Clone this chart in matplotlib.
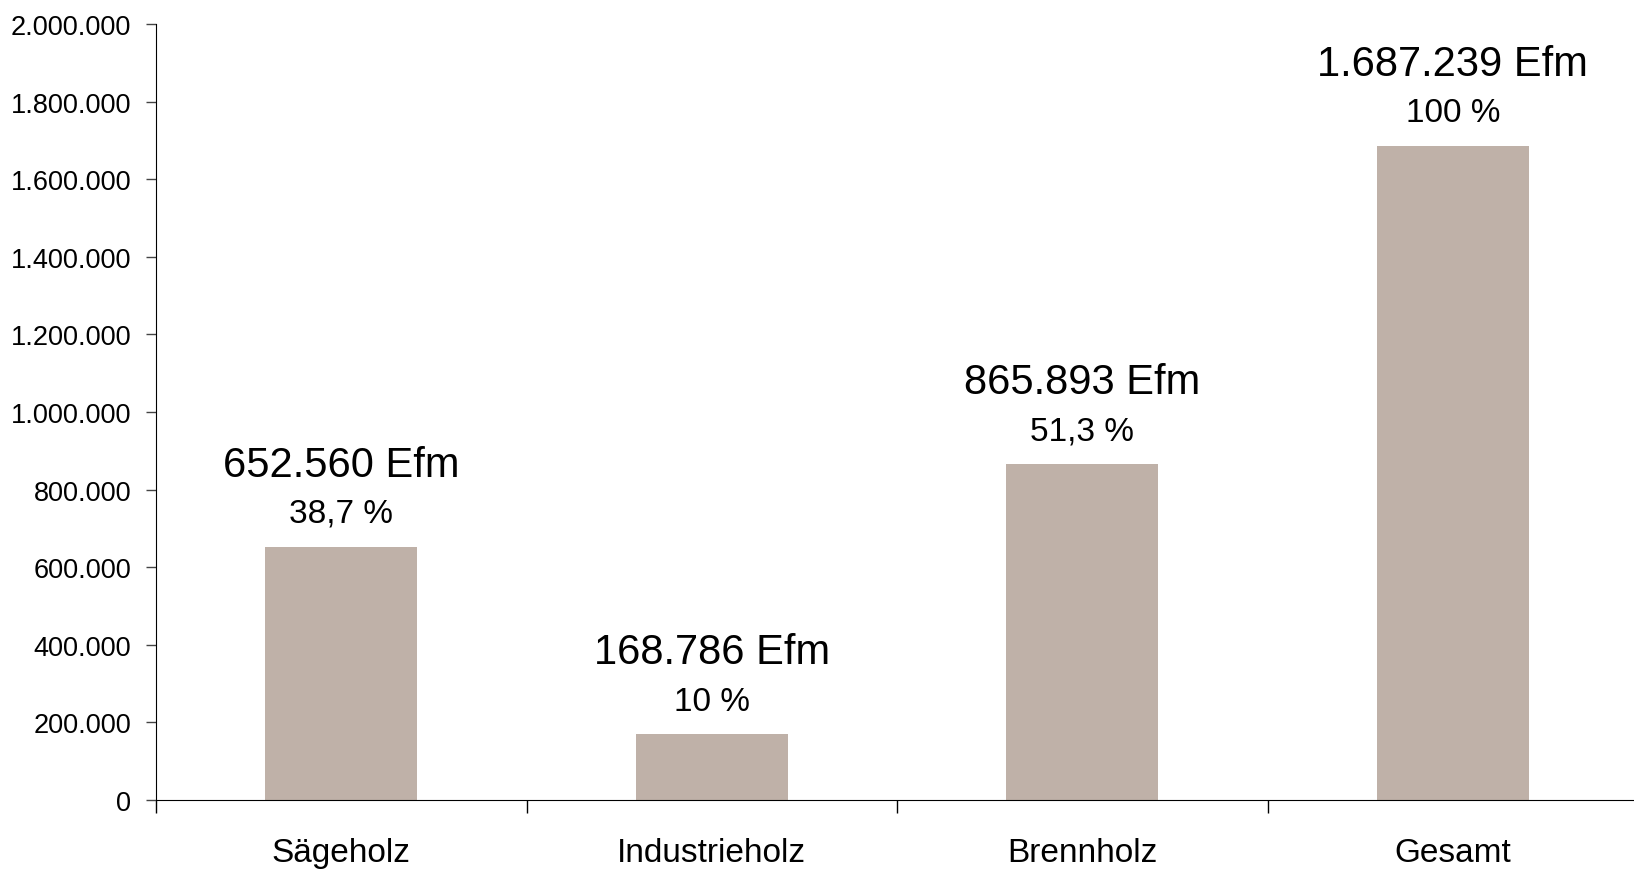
import matplotlib
matplotlib.use("Agg")
import matplotlib.pyplot as plt
from matplotlib.ticker import FuncFormatter

plt.rcParams['font.family'] = ['Liberation Sans', 'DejaVu Sans']

categories = ["Sägeholz", "Industrieholz", "Brennholz", "Gesamt"]
volumes = [652560, 168786, 865893, 1687239]
shares = ["38,7 %", "10 %", "51,3 %", "100 %"]

bar_color = "#bfb1a8"


def de_format(v, pos=None):
    # German thousands separator
    return f"{int(v):,}".replace(",", ".")


fig = plt.figure(figsize=(16.34, 8.70), dpi=100)
ax = fig.add_axes([0.0955, 0.0795, 0.907, 0.8915])

x = list(range(len(categories)))
ax.bar(x, volumes, width=0.41, color=bar_color, zorder=2)

for xi, v, s in zip(x, volumes, shares):
    ax.annotate(de_format(v) + " Efm", (xi, v), xytext=(0, 59),
                textcoords="offset points", ha="center", va="center", fontsize=30)
    ax.annotate(s, (xi, v), xytext=(0, 24),
                textcoords="offset points", ha="center", va="center", fontsize=24)

ax.set_xlim(-0.5, 3.5)
ax.set_ylim(0, 2000000)
ax.set_yticks(range(0, 2000001, 200000))
ax.yaxis.set_major_formatter(FuncFormatter(de_format))
ax.tick_params(axis="y", length=7, width=1, color="#444444", pad=11, labelsize=19.5)

ax.set_xticks(x)
ax.set_xticklabels(categories)
ax.set_xticks([-0.5, 0.5, 1.5, 2.5, 3.5], minor=True)
ax.tick_params(axis="x", which="major", length=0, pad=27, labelsize=24)
ax.tick_params(axis="x", which="minor", length=9, width=1, color="black")

for side in ["top", "right"]:
    ax.spines[side].set_visible(False)
ax.spines["left"].set_color("black")
ax.spines["bottom"].set_color("black")

fig.savefig("out.png", dpi=100)
